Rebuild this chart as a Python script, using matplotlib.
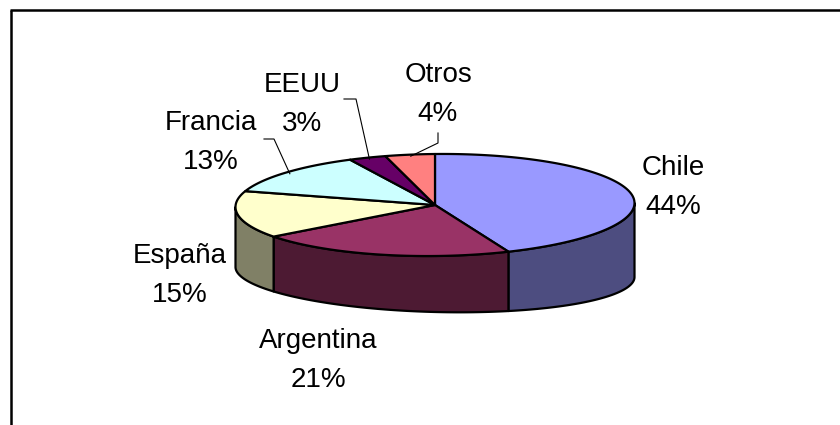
import numpy as np
import matplotlib.pyplot as plt
from matplotlib.patches import Polygon

# datos del grafico
paises = ['Chile', 'Argentina', 'España', 'Francia', 'EEUU', 'Otros']
porcentajes = [44, 21, 15, 13, 3, 4]
colores_sup = ['#9999FF', '#993366', '#FFFFCC', '#CCFFFF', '#660066', '#FF8080']
colores_lado = ['#4D4D80', '#4D1A33', '#808066', '#668080', '#330033', '#804040']

# posicion de las etiquetas (centro x, linea base del nombre) en pixeles
etiq_x = [673, 318, 180, 211, 302, 438]
etiq_y = [175, 348, 263, 130, 92, 82]
# codo de las lineas guia (solo para las porciones pequenas)
guias = {'Francia': [(264, 139), (274, 139)],
         'EEUU': [(344, 99), (356, 99)],
         'Otros': [(438, 133), (438, 143)]}

# geometria del pastel 3D (pixeles)
CX, CY, RX, RY, TILT = 435, 205, 199.5, 51, 2
CB, RYB, TILTB = 272, 40, 5


def borde_sup(t):
    t = np.radians(t)
    return CX + RX * np.cos(t), CY - RY * np.sin(t) - TILT * np.cos(t)


def borde_inf(t):
    t = np.radians(t)
    return CX + RX * np.cos(t), CB - RYB * np.sin(t) + TILTB * np.cos(t)


fig = plt.figure(figsize=(8.4, 4.25), dpi=100)
ax = fig.add_axes([0, 0, 1, 1])
ax.set_xlim(0, 840)
ax.set_ylim(425, 0)
ax.axis('off')

inicio = 90.0
for i, (pais, p) in enumerate(zip(paises, porcentajes)):
    a0 = inicio
    a1 = inicio - p * 3.6
    inicio = a1

    # cara lateral visible (mitad delantera)
    for k in (-1, 0, 1):
        lo = max(a1, -180 + 360 * k)
        hi = min(a0, 360 * k)
        if hi - lo > 0.01:
            t = np.linspace(lo, hi, 80)
            xs, ys = borde_sup(t)
            xb, yb = borde_inf(t[::-1])
            pts = np.column_stack([np.r_[xs, xb], np.r_[ys, yb]])
            ax.add_patch(Polygon(pts, closed=True, facecolor=colores_lado[i],
                                 edgecolor='black', lw=1.6, zorder=1,
                                 joinstyle='round'))

    # cara superior
    t = np.linspace(a0, a1, 120)
    xs, ys = borde_sup(t)
    pts = np.column_stack([np.r_[CX, xs], np.r_[CY, ys]])
    ax.add_patch(Polygon(pts, closed=True, facecolor=colores_sup[i],
                         edgecolor='black', lw=1.6, zorder=2, joinstyle='round'))

    # etiqueta
    ax.text(etiq_x[i], etiq_y[i], pais, ha='center', va='baseline',
            fontsize=20, family='Liberation Sans', zorder=5)
    ax.text(etiq_x[i], etiq_y[i] + 39, f'{p}%', ha='center', va='baseline',
            fontsize=20, family='Liberation Sans', zorder=5)

    # linea guia
    if pais in guias:
        xm, ym = borde_sup((a0 + a1) / 2)
        xm = CX + (xm - CX) * 0.97
        ym = CY + (ym - CY) * 0.97
        px = [q[0] for q in guias[pais]] + [xm]
        py = [q[1] for q in guias[pais]] + [ym]
        ax.plot(px, py, color='black', lw=0.8, zorder=4)

# marco del area del grafico
ax.plot([10, 840], [10, 10], color='black', lw=1.8, clip_on=False,
        solid_capstyle='butt')
ax.plot([11, 11], [10, 425], color='black', lw=1.8, clip_on=False,
        solid_capstyle='butt')

fig.savefig('out.png', dpi=100)
